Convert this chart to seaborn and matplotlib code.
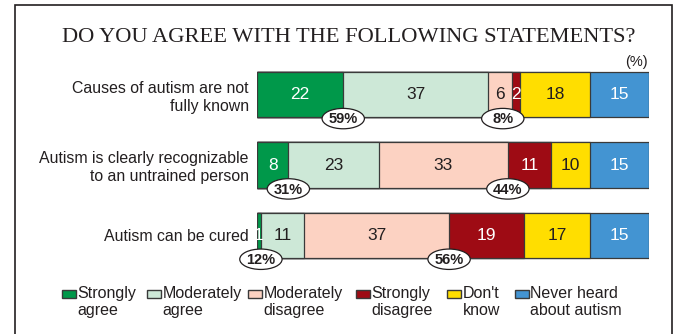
import numpy as np
import pandas as pd
import matplotlib
matplotlib.use("Agg")
import matplotlib.pyplot as plt
from matplotlib.patches import Rectangle, Ellipse
import seaborn as sns

# Survey statements and response shares (%)
statements = [
    "Causes of autism are not\nfully known",
    "Autism is clearly recognizable\nto an untrained person",
    "Autism can be cured",
]
responses = ["Strongly\nagree", "Moderately\nagree", "Moderately\ndisagree",
             "Strongly\ndisagree", "Don't\nknow", "Never heard\nabout autism"]
strongly_agree = [22, 8, 1]
moderately_agree = [37, 23, 11]
moderately_disagree = [6, 33, 37]
strongly_disagree = [2, 11, 19]
dont_know = [18, 10, 17]
never_heard = [15, 15, 15]

# Combined agree / disagree totals shown in the ovals
agree_total = [59, 31, 12]
disagree_total = [8, 44, 56]

colors = ["#00984a", "#cde8d7", "#fcd2c2", "#9e0b14", "#ffde00", "#4394d2"]
text_colors = ["white", "#231f20", "#231f20", "white", "#231f20", "white"]
edge = "#3a3a3a"

series = [strongly_agree, moderately_agree, moderately_disagree,
          strongly_disagree, dont_know, never_heard]
values = np.array(series)           # shape (6, 3)
cum = np.cumsum(values, axis=0)

sns.set_theme(style="white")
plt.rcParams["font.family"] = ["Liberation Sans", "DejaVu Sans"]

W, H = 678, 334
fig = plt.figure(figsize=(W / 100, H / 100), dpi=100)
ax = fig.add_axes([257 / W, (H - 270.5) / H, 392 / W, 211 / H])

# Stacked horizontal bars: draw cumulative layers from the widest down
for i in range(len(series) - 1, -1, -1):
    df = pd.DataFrame({"statement": statements, "value": cum[i]})
    sns.barplot(data=df, x="value", y="statement", orient="h",
                color=colors[i], saturation=1, width=0.64,
                edgecolor=edge, linewidth=0.9, ax=ax)

ax.set_xlim(0, 100)
ax.set_ylim(2.5, -0.5)
ax.set_xlabel("")
ax.set_ylabel("")
ax.set_xticks([])
ax.tick_params(axis="y", length=0, pad=6, labelsize=11.4, labelcolor="#231f20")
for s in ax.spines.values():
    s.set_visible(False)

# Segment value labels
for i in range(len(series)):
    for r in range(len(statements)):
        v = values[i, r]
        x = cum[i, r] - v / 2
        ax.text(x, r, f"{v}", ha="center", va="center", fontsize=12.5,
                color=text_colors[i])

# Agree / disagree total ovals on the lower bar edge
agree_pos = cum[0]
disagree_pos = cum[2] - np.array([2.3, 0, 0])
for r in range(len(statements)):
    for xpos, lab in ((agree_pos[r], agree_total[r]), (disagree_pos[r], disagree_total[r])):
        ax.add_patch(Ellipse((xpos, r + 0.34), width=10.8, height=0.29,
                             facecolor="white", edgecolor="#231f20",
                             linewidth=0.9, zorder=5, clip_on=False))
        ax.text(xpos, r + 0.35, f"{lab}%", ha="center", va="center",
                fontsize=10.5, fontweight="bold", color="#231f20", zorder=6)

# Title and unit
fig.text(348.5 / W, 1 - 37 / H, "DO YOU AGREE WITH THE FOLLOWING STATEMENTS?",
         ha="center", va="center", fontsize=16.2, color="#231f20",
         family=["Liberation Serif", "DejaVu Serif"])
fig.text(648 / W, 1 - 62 / H, "(%)", ha="right", va="center", fontsize=10.5,
         color="#231f20")

# Legend
patch_x = [62, 147, 248, 356, 447, 515]
for i, lab in enumerate(responses):
    x0 = patch_x[i]
    fig.patches.append(Rectangle((x0 / W, 1 - 297.5 / H), 14 / W, 7.5 / H,
                                 transform=fig.transFigure, facecolor=colors[i],
                                 edgecolor=edge, linewidth=1.0))
    fig.text((x0 + 15.5) / W, 1 - 286 / H, lab, ha="left", va="top",
             fontsize=11.5, color="#231f20", linespacing=1.2)

# Outer frame
fig.patches.append(Rectangle((15 / W, -0.05), (672 - 15) / W, 1.05 - 5 / H,
                             transform=fig.transFigure, fill=False,
                             edgecolor="#231f20", linewidth=1.2))

fig.savefig("out.png", dpi=100)
